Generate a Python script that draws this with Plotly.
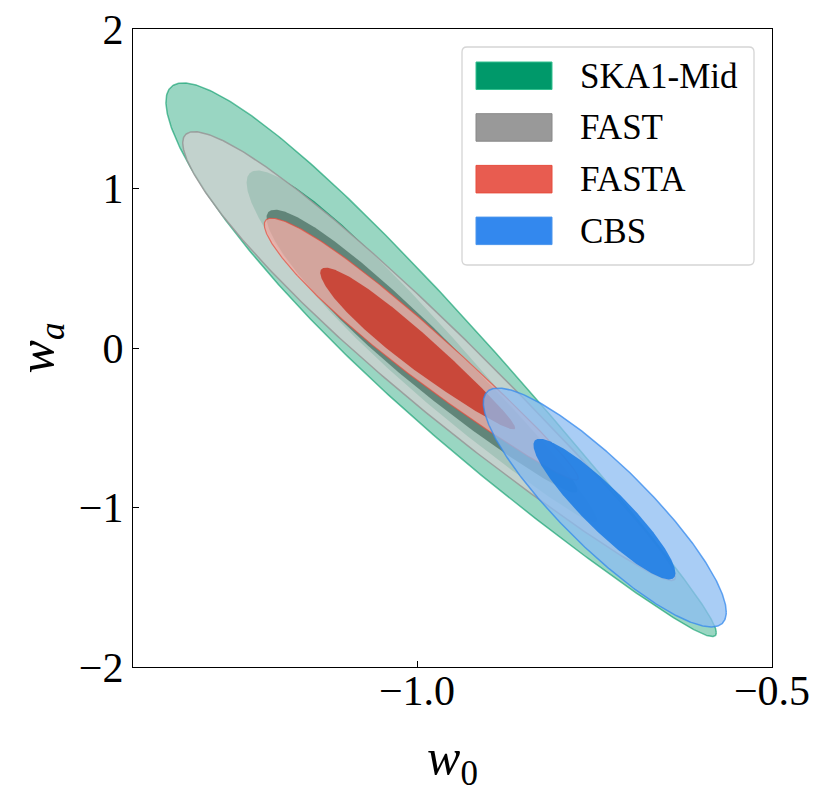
import numpy as np
import plotly.graph_objects as go

# ---------------- data ----------------
experiments = ["SKA1-Mid", "FAST", "FASTA", "CBS"]

# one entry per filled contour, drawn in this order (2-sigma then 1-sigma)
contour_exp = ["SKA1-Mid", "SKA1-Mid", "FAST", "FAST", "FASTA", "FASTA", "CBS", "CBS"]
contour_level = [2, 1, 2, 1, 2, 1, 2, 1]
center_w0 = [-0.966, -0.993, -0.983, -0.993, -0.994, -0.999, -0.7355, -0.736]
center_wa = [-0.121, -0.021, -0.075, -0.038, -0.021, -0.0145, -1.000, -1.010]
half_w0 = [0.3876, 0.247, 0.347, 0.219, 0.2211, 0.1373, 0.1711, 0.100]
half_wa = [1.728, 1.099, 1.404, 0.885, 0.819, 0.506, 0.749, 0.441]
rho = [-0.9630, -0.963, -0.9693, -0.9641, -0.9697, -0.9621, -0.876, -0.911]
taper = [0.40, 0.40, 0.30, 0.30, 0.30, 0.30, 0.00, 0.00]

x_ticks = [-1.0, -0.5]
x_ticktext = ["\u22121.0", "\u22120.5"]
y_ticks = [-2, -1, 0, 1, 2]
y_ticktext = ["\u22122", "\u22121", "0", "1", "2"]

# ---------------- styles ----------------
fill_colors = {
    ("SKA1-Mid", 2): "rgba(0,153,102,0.40)",
    ("SKA1-Mid", 1): "rgba(0,140,95,0.75)",
    ("FAST", 2): "rgba(208,208,208,0.75)",
    ("FAST", 1): "rgba(75,112,99,0.75)",
    ("FASTA", 2): "rgba(240,172,166,0.80)",
    ("FASTA", 1): "rgba(200,62,48,0.90)",
    ("CBS", 2): "rgba(140,188,242,0.75)",
    ("CBS", 1): "rgba(25,122,228,0.85)",
}
edge_colors = {
    ("SKA1-Mid", 2): ("rgba(0,153,102,0.60)", 1.5),
    ("FAST", 2): ("rgba(150,150,150,0.85)", 1.5),
    ("FASTA", 2): ("rgba(231,76,60,0.70)", 1.2),
    ("CBS", 2): ("rgba(51,136,238,0.75)", 1.5),
}
legend_fill = {"SKA1-Mid": "#00996a", "FAST": "#999999", "FASTA": "#e85c50", "CBS": "#3388ee"}
legend_edge = {"SKA1-Mid": "#33c08f", "FAST": "#888888", "FASTA": "#e74c3c", "CBS": "#4a94ec"}

FONT = "Liberation Serif, Times New Roman, DejaVu Serif, serif"

fig = go.Figure()

t = np.linspace(0, 2 * np.pi, 500)
for i in range(len(contour_exp)):
    u, v = np.cos(t), np.sin(t)
    s = np.sqrt(1 - rho[i] ** 2)
    xs = center_w0[i] + half_w0[i] * u
    ys = center_wa[i] + half_wa[i] * (rho[i] * u + s * v * (1 - taper[i] * u))
    key = (contour_exp[i], contour_level[i])
    lc, lw = edge_colors.get(key, ("rgba(0,0,0,0)", 0))
    fig.add_trace(go.Scatter(
        x=xs, y=ys, mode="lines", fill="toself",
        fillcolor=fill_colors[key],
        line=dict(color=lc, width=lw),
        hoverinfo="skip", showlegend=False,
    ))

# ---------------- layout ----------------
OFF = 8                      # default page margin of the html body
W, H = 831 - OFF, 802 - OFF
ml, mr, mt, mb = 125, 59, 21, 135
pw, ph = W - ml - mr, H - mt - mb


def px2paper(px, py):
    """page pixel -> paper fraction of the plotting area"""
    return (px - OFF - ml) / pw, (H + OFF - mb - py) / ph


fig.update_layout(
    width=W, height=H,
    margin=dict(l=ml, r=mr, t=mt, b=mb, pad=0, autoexpand=False),
    paper_bgcolor="white", plot_bgcolor="white",
    showlegend=False,
    font=dict(family=FONT, color="black"),
)
axis_common = dict(
    showgrid=False, zeroline=False, showline=True, mirror=True,
    linecolor="black", linewidth=1.2, ticks="inside", ticklen=6,
    tickwidth=1, tickcolor="black", ticklabeloverflow="allow",
    automargin=False,
    tickfont=dict(family=FONT, size=42, color="black"),
)
fig.update_xaxes(range=[-1.4, -0.5], tickmode="array", tickvals=x_ticks,
                 ticktext=x_ticktext, ticklabelstandoff=-14, **axis_common,
                 title=dict(text="<i>w</i><sub>0</sub>", standoff=26,
                            font=dict(family=FONT, size=50)))
fig.update_yaxes(range=[-2, 2], tickmode="array", tickvals=y_ticks,
                 ticktext=y_ticktext, **axis_common,
                 title=dict(text="<i>w</i><sub><i>a</i></sub>", standoff=10,
                            font=dict(family=FONT, size=50)))

# ---------------- custom legend ----------------
bx0, by0 = px2paper(462, 265)
bx1, by1 = px2paper(754, 47)
rx, ry = 5 / pw, 5 / ph
path = (f"M{bx0+rx},{by0} L{bx1-rx},{by0} Q{bx1},{by0} {bx1},{by0+ry} "
        f"L{bx1},{by1-ry} Q{bx1},{by1} {bx1-rx},{by1} L{bx0+rx},{by1} "
        f"Q{bx0},{by1} {bx0},{by1-ry} L{bx0},{by0+ry} Q{bx0},{by0} {bx0+rx},{by0} Z")
shapes = [dict(type="path", path=path, xref="paper", yref="paper",
               fillcolor="white", line=dict(color="#d5d5d5", width=1.3), layer="above")]
annotations = []
for k, name in enumerate(experiments):
    top = 62 + k * 51.7
    x0, y0 = px2paper(476, top + 27.5)
    x1, y1 = px2paper(552, top)
    shapes.append(dict(type="rect", xref="paper", yref="paper", x0=x0, y0=y0, x1=x1, y1=y1,
                       fillcolor=legend_fill[name], line=dict(color=legend_edge[name], width=1),
                       layer="above"))
    lx, ly = px2paper(578, top + 14)
    annotations.append(dict(x=lx, y=ly, xref="paper", yref="paper", text=name,
                            showarrow=False, xanchor="left", yanchor="middle",
                            font=dict(family=FONT, size=35, color="black")))
fig.update_layout(shapes=shapes, annotations=annotations)

fig.write_html("out.html")
